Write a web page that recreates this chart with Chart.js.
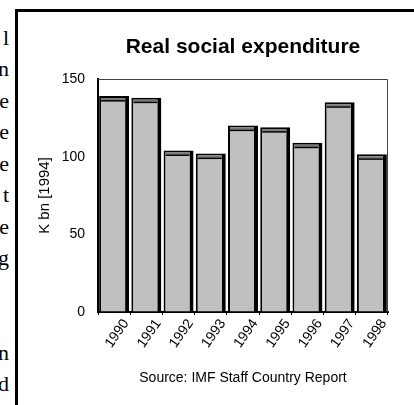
<!DOCTYPE html>
<html><head><meta charset="utf-8">
<script src="https://cdn.jsdelivr.net/npm/chart.js@4/dist/chart.umd.min.js"></script>
<style>
html,body{margin:0;padding:0;width:414px;height:405px;overflow:hidden;background:#fff;}
#side{position:absolute;left:-41px;top:21.8px;width:50px;text-align:right;font:22px/31.5px "Liberation Serif","Times New Roman",serif;color:#000;}
#frame{position:absolute;left:15px;top:9px;width:500px;height:500px;border-top:3px solid #000;border-left:3px solid #000;box-sizing:border-box;}
#wrap{position:absolute;left:0;top:0;width:414px;height:405px;}
</style></head><body>
<div id="side">l<br>n<br>e<br>e<br>e<br>t<br>e<br>g<br>&nbsp;<br>&nbsp;<br>n<br>d</div>
<div id="frame"></div>
<div id="wrap"><canvas id="c" width="414" height="405"></canvas></div>
<script>
const years = ['1990','1991','1992','1993','1994','1995','1996','1997','1998'];
const spending = [139, 138, 104, 102, 120, 119, 109, 135, 101.5];
const yTicks = [0, 50, 100, 150];
const chartTitle = 'Real social expenditure';
const yTitle = 'K bn [1994]';
const sourceNote = 'Source: IMF Staff Country Report';

const FONT = '"Liberation Sans", Arial, Helvetica, sans-serif';

const deco = {
  id: 'deco',
  beforeDatasetsDraw(chart) {
    const {ctx, chartArea: a} = chart;
    ctx.save();
    ctx.strokeStyle = '#444';
    ctx.lineWidth = 1;
    ctx.beginPath();
    ctx.moveTo(a.left, a.top + 0.5);
    ctx.lineTo(a.right - 0.5, a.top + 0.5);
    ctx.lineTo(a.right - 0.5, a.bottom);
    ctx.stroke();
    ctx.restore();
  },
  afterDatasetsDraw(chart) {
    const ctx = chart.ctx;
    const meta = chart.getDatasetMeta(0);
    ctx.save();
    meta.data.forEach(b => {
      const {x, y, width} = b.getProps(['x', 'y', 'width'], true);
      const l = x - width / 2;
      ctx.fillStyle = '#777';
      ctx.fillRect(l + 2, y + 2, width - 6, 2);
      ctx.fillStyle = '#000';
      ctx.fillRect(l + 2, y + 4, width - 6, 1.5);
    });
    ctx.restore();
  }
};

new Chart(document.getElementById('c'), {
  type: 'bar',
  data: {
    labels: years,
    datasets: [{
      data: spending,
      backgroundColor: '#c0c0c0',
      borderColor: '#000',
      borderWidth: {left: 2, right: 4, top: 2, bottom: 0},
      borderSkipped: 'bottom',
      barPercentage: 0.93,
      categoryPercentage: 1
    }]
  },
  options: {
    responsive: false,
    animation: false,
    layout: {padding: {left: 18, right: 26, top: 12, bottom: 0}},
    plugins: {
      legend: {display: false},
      tooltip: {enabled: false},
      title: {
        display: true, text: chartTitle, color: '#000', fullSize: false,
        font: {family: FONT, size: 21, weight: 'bold', lineHeight: 1.2},
        padding: {top: 22.4, bottom: 19.4}
      }
    },
    scales: {
      x: {
        ticks: {color: '#000', font: {family: FONT, size: 14}, minRotation: 55, maxRotation: 55, padding: 1, labelOffset: 12, autoSkip: false},
        grid: {drawOnChartArea: false, drawTicks: true, tickLength: 3, tickWidth: 1, tickColor: '#000', offset: true},
        border: {color: '#000', width: 2},
        title: {display: true, text: sourceNote, color: '#000', font: {family: FONT, size: 14, lineHeight: 1.2}, padding: {top: 0, bottom: 18.6}},
        afterFit(s) { s.height = 93; }
      },
      y: {
        min: 0, max: 150,
        afterBuildTicks(s) { s.ticks = yTicks.map(v => ({value: v})); },
        ticks: {color: '#000', font: {family: FONT, size: 14}, padding: 13},
        grid: {drawOnChartArea: false, drawTicks: false},
        border: {color: '#000', width: 2},
        title: {display: true, text: yTitle, color: '#000', font: {family: FONT, size: 15, lineHeight: 1.2}, padding: {top: 18, bottom: 0}},
        afterFit(s) { s.width = 80; }
      }
    }
  },
  plugins: [deco]
});
</script>
</body></html>
